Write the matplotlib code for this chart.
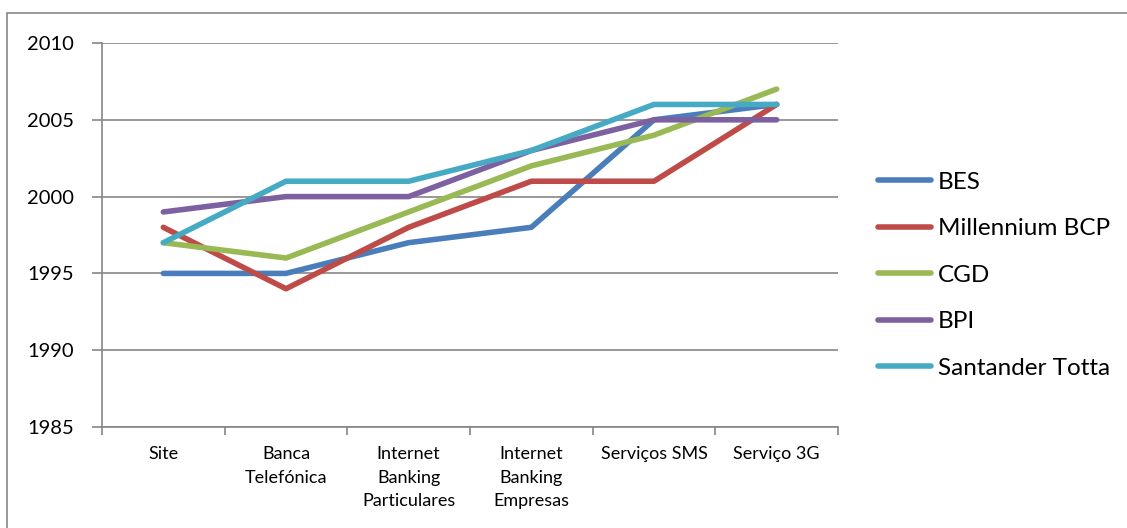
import matplotlib.pyplot as plt
from matplotlib.patches import Rectangle
import numpy as np

categorias = ['Site', 'Banca\nTelefónica', 'Internet\nBanking\nParticulares',
              'Internet\nBanking\nEmpresas', 'Serviços SMS', 'Serviço 3G']
bes = [1995, 1995, 1997, 1998, 2005, 2006]
millennium = [1998, 1994, 1998, 2001, 2001, 2006]
cgd = [1997, 1996, 1999, 2002, 2004, 2007]
bpi = [1999, 2000, 2000, 2003, 2005, 2005]
santander = [1997, 2001, 2001, 2003, 2006, 2006]

series = [('BES', bes, '#4a7ebb'),
          ('Millennium BCP', millennium, '#be4b48'),
          ('CGD', cgd, '#98b954'),
          ('BPI', bpi, '#7d60a0'),
          ('Santander Totta', santander, '#46aac5')]

plt.rcParams['font.family'] = ['Lato', 'DejaVu Sans']

fig = plt.figure(figsize=(11.27, 5.28), dpi=100)
fig.patches.append(Rectangle((7 / 1127, -0.1), 1.2, 1 - 13 / 528 + 0.1,
                             transform=fig.transFigure, fill=False,
                             edgecolor='#868686', linewidth=1.2))
ax = fig.add_axes([102 / 1127, 1 - 427 / 528, 736 / 1127, 384 / 528])

x = np.arange(len(categorias))
for nome, valores, cor in series:
    ax.plot(x, valores, color=cor, linewidth=4, label=nome,
            solid_capstyle='round', solid_joinstyle='round')

ax.set_xlim(-0.5, len(categorias) - 0.5)
ax.set_ylim(1985, 2010)
ax.set_yticks(range(1985, 2011, 5))
ax.yaxis.grid(True, color='#868686', linewidth=1.2)
ax.set_axisbelow(True)
ax.set_xticks(x)
ax.set_xticklabels(categorias, fontsize=13, linespacing=1.55)
ax.set_xticks(np.arange(-0.5, len(categorias)), minor=True)
ax.tick_params(axis='x', which='major', length=0, pad=14)
ax.tick_params(axis='x', which='minor', length=6, color='#868686', width=1.2)
ax.tick_params(axis='y', length=7, color='#868686', width=1.2, labelsize=14.5, pad=13)
for lado in ['top', 'right']:
    ax.spines[lado].set_visible(False)
for lado in ['left', 'bottom']:
    ax.spines[lado].set_color('#868686')
    ax.spines[lado].set_linewidth(1.2)

ax.legend(loc='center left', bbox_to_anchor=(1.055, 0.395), frameon=False,
          fontsize=17.5, handlelength=2.15, handletextpad=0.3, labelspacing=1.05,
          borderpad=0, borderaxespad=0)

fig.savefig('out.png', dpi=100)
